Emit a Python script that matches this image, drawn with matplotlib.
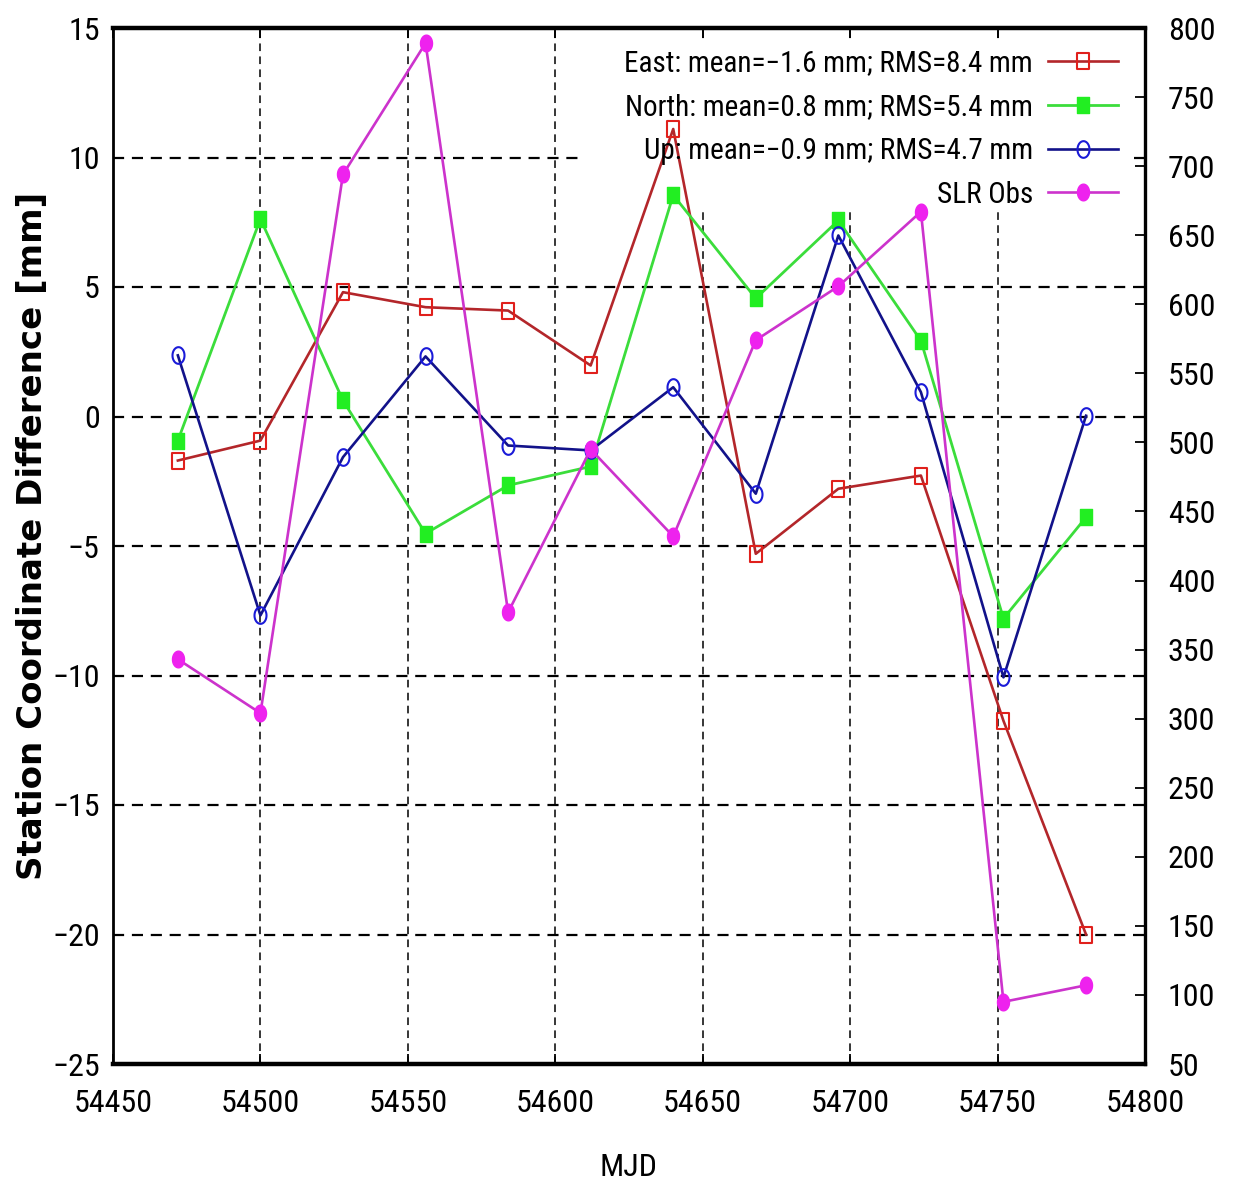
import numpy as np
import matplotlib
matplotlib.use("Agg")
import matplotlib.pyplot as plt
from matplotlib import font_manager as fm
from matplotlib.patches import Rectangle
from matplotlib.path import Path
from matplotlib.ticker import MultipleLocator

# Epochs (MJD) and station coordinate differences [mm]
mjd = [54472, 54500, 54528, 54556, 54584, 54612, 54640, 54668, 54696, 54724, 54752, 54780]
east = [-1.70, -0.93, 4.80, 4.22, 4.09, 1.97, 11.10, -5.30, -2.79, -2.28, -11.75, -20.00]
north = [-0.93, 7.63, 0.62, -4.52, -2.66, -1.93, 8.55, 4.56, 7.57, 2.93, -7.80, -3.89]
up = [2.36, -7.68, -1.57, 2.32, -1.12, -1.31, 1.13, -2.98, 6.99, 0.94, -10.07, 0.03]
# Number of SLR observations per epoch (right axis)
slr_obs = [343, 304, 694, 789, 377, 495, 432, 574, 613, 667, 95, 107]

series_labels = [
    "East: mean=\u22121.6 mm; RMS=8.4 mm",
    "North: mean=0.8 mm; RMS=5.4 mm",
    "Up: mean=\u22120.9 mm; RMS=4.7 mm",
    "SLR Obs",
]

# narrow sans-serif for ticks, key and axis title
available = {f.name for f in fm.fontManager.ttflist}
prefs = ["Roboto Condensed", "Liberation Sans Narrow", "Nimbus Sans Narrow", "Arial Narrow",
         "Archivo Narrow", "PT Sans Narrow", "Open Sans Condensed", "Sofia Sans Condensed",
         "Fira Sans Condensed"]
narrow = next((n for n in prefs if n in available), "Liberation Sans")
plt.rcParams["font.family"] = [narrow, "DejaVu Sans"]

# slightly tall markers
t = np.linspace(0, 2 * np.pi, 40)
tall_circle = Path(np.column_stack([0.72 * np.cos(t), np.sin(t)]), closed=True)
tall_square = Path([(-0.8, -1), (0.8, -1), (0.8, 1), (-0.8, 1), (-0.8, -1)], closed=True)

W, H = 1237, 1188
fig = plt.figure(figsize=(W / 100, H / 100), dpi=100)
ax1 = fig.add_axes([113 / W, 1 - 1064 / H, 1032 / W, 1036 / H])
ax2 = ax1.twinx()

ax1.set_xlim(54450, 54800)
ax1.set_ylim(-25, 15)
ax2.set_ylim(50, 800)
ax1.xaxis.set_major_locator(MultipleLocator(50))
ax1.yaxis.set_major_locator(MultipleLocator(5))
ax2.yaxis.set_major_locator(MultipleLocator(50))

ax1.set_axisbelow(True)
dash = (0, (5, 3.5))
ax1.xaxis.grid(True, color="black", linestyle=dash, linewidth=1.1)
ax1.yaxis.grid(True, color="black", linestyle=dash, linewidth=1.6)

# opaque key area hides the grid behind the legend
ax1.add_patch(Rectangle((0.457, 0.824), 0.989 - 0.457, 0.989 - 0.824,
                        transform=ax1.transAxes, facecolor="white",
                        edgecolor="none", zorder=1))

l1, = ax1.plot(mjd, east, color="#b3262a", lw=1.9, marker=tall_square, ms=11,
               mfc="none", mec="#e0201c", mew=1.5, zorder=2)
l2, = ax1.plot(mjd, north, color="#3bdd3b", lw=2.0, marker=tall_square, ms=11,
               mfc="#22ee22", mec="#22ee22", mew=1.0, zorder=2)
l3, = ax1.plot(mjd, up, color="#12128a", lw=1.9, marker=tall_circle, ms=12,
               mfc="none", mec="#1a1ad8", mew=1.5, zorder=2)
l4, = ax2.plot(mjd, slr_obs, color="#cc33cc", lw=1.9, marker=tall_circle, ms=12,
               mfc="#ee22ee", mec="#ee22ee", mew=1.0)

ax1.tick_params(axis="both", direction="in", length=7, width=1.3,
                top=True, right=True, labelsize=23)
ax1.tick_params(axis="y", pad=9.5)
ax1.tick_params(axis="x", pad=18)
ax2.tick_params(axis="y", direction="in", length=7, width=1.3, pad=16.5, labelsize=23)

for side, lw in (("top", 3.2), ("bottom", 3.2), ("left", 2.0), ("right", 2.4)):
    ax1.spines[side].set_linewidth(lw)
for sp in ax2.spines.values():
    sp.set_visible(False)

ax1.set_ylabel("Station Coordinate Difference [mm]", family=["DejaVu Sans"],
               fontsize=24.5, fontweight="bold", va="center")
ax1.yaxis.set_label_coords((33 - 113) / 1032, 0.51)
ax1.set_xlabel("MJD", fontsize=23, va="center")
ax1.xaxis.set_label_coords(0.5, (1064 - 1168) / 1036)

ax2.legend([l1, l2, l3, l4], series_labels, loc="upper right",
           bbox_to_anchor=(0.9738, 0.9793), borderaxespad=0, borderpad=0,
           frameon=False, markerfirst=False, handlelength=2.4,
           handletextpad=0.51, labelspacing=0.54, fontsize=21)

fig.savefig("out.png", dpi=100)
